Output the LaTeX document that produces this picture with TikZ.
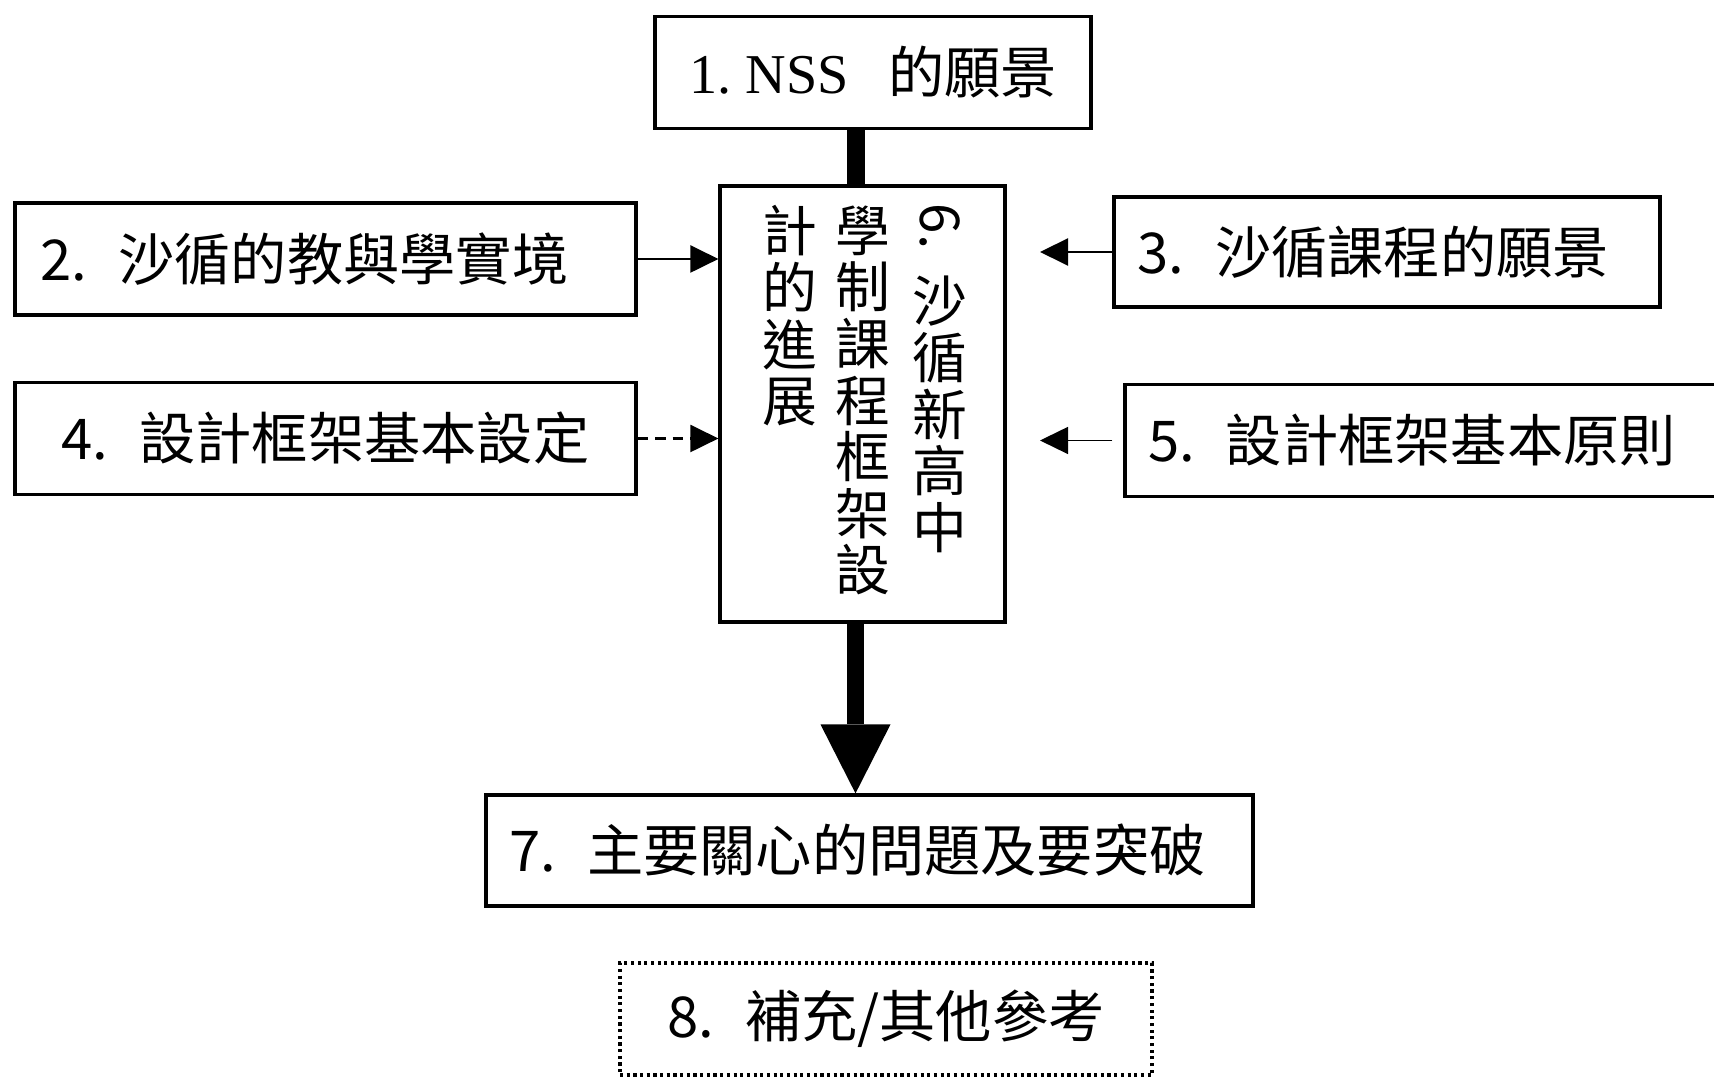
\documentclass[tikz,border=0pt]{standalone}
\usepackage{fontspec}
\setmainfont{Liberation Serif}
\newfontfamily\cjk{Noto Sans CJK TC}
\usetikzlibrary{arrows.meta}
\newcommand\numgap{\hspace{.55em}}

\begin{document}
\begin{tikzpicture}[
  box/.style={draw, line width=0.9pt, minimum height=1.12cm, font=\cjk\fontsize{16}{16}\selectfont},
  col/.style={anchor=north, align=center, inner sep=0pt, font=\cjk\fontsize{15.6}{16.1}\selectfont},
  feed/.style={line width=0.6pt, -{Triangle[length=2.8mm,width=2.7mm]}}]
\useasboundingbox (0,0) rectangle (17.14,10.77);

% top and centre
\node[box, minimum width=4.36cm, font=\fontsize{16}{16}\selectfont] (nss) at (8.73,10.045) {1.\ NSS\hspace{.7em}{\cjk 的願景}};
\node[draw, line width=0.9pt, minimum width=2.85cm, minimum height=4.36cm] (frame) at (8.625,6.73) {};
\node[col] (colA) at (9.40,8.74) {\rotatebox[origin=c]{-90}{6.}\\[5.5pt]沙\\循\\新\\高\\中};
\node[col] (colB) at (8.63,8.72) {學\\制\\課\\程\\框\\架\\設};
\node[col] (colC) at (7.90,8.72) {計\\的\\進\\展};

% left side
\node[box, minimum width=6.21cm] (setting) at (3.255,8.18) {2.\numgap 沙循的教與學實境\hspace*{.42cm}};
\node[box, minimum width=6.21cm] (basics) at (3.255,6.385) {4.\numgap 設計框架基本設定};

% right side
\node[box, minimum width=5.46cm, minimum height=1.1cm] (vision) at (13.87,8.25) {3.\numgap 沙循課程的願景\hspace*{.28cm}};
\node[box, minimum width=6.0cm] (principles) at (14.25,6.365) {5.\numgap 設計框架基本原則\hspace*{.26cm}};

% bottom
\node[box, minimum width=7.67cm, minimum height=1.11cm] (issues) at (8.695,2.265) {7.\numgap 主要關心的問題及要突破\hspace*{.24cm}};
\node[box, densely dotted, minimum width=5.32cm] (extra) at (8.86,0.58) {8.\numgap 補充/其他參考};

\coordinate (spine) at (8.555,0);
\coordinate (gap) at (10.40,0);

\draw[line width=0.18cm] (spine |- nss.south) -- (spine |- frame.north);
\draw[line width=0.17cm, -{Triangle[length=6.9mm,width=7mm,line width=0pt]}] (spine |- frame.south) -- (spine |- issues.north);

\draw[feed] (setting.east) -- (setting.east -| frame.west);
\draw[feed, densely dashed] (basics.east) -- (basics.east -| frame.west);
\draw[feed] (vision.west) -- (vision.west -| gap);
\draw[feed, line width=0.4pt] ([xshift=-1.1mm]principles.west) -- (principles.west -| gap);
\end{tikzpicture}
\end{document}
